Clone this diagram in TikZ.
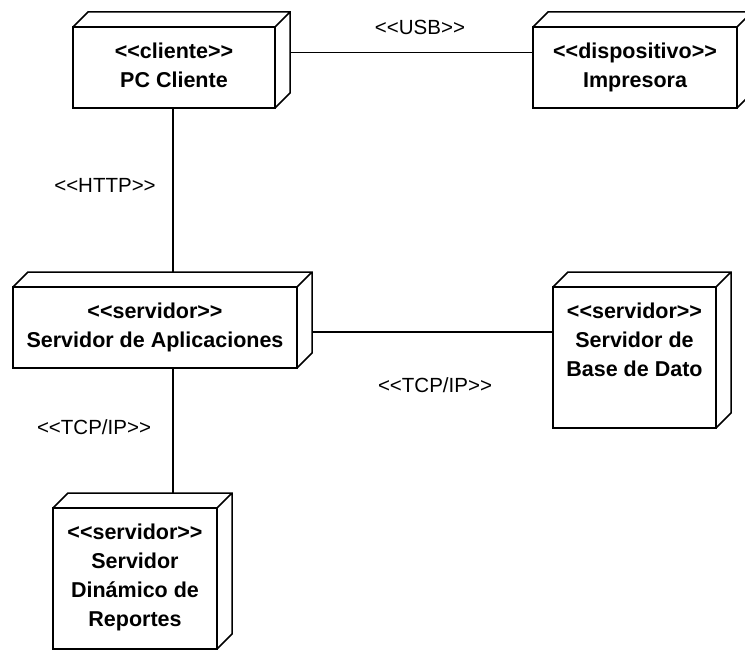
\documentclass[tikz,border=0pt]{standalone}
\usepackage{fontspec}
\setmainfont{Liberation Sans}
\usetikzlibrary{calc}

% stereotype guillemets written as plain angle brackets
\newcommand\stereo[1]{<{}<#1>{}>}

% text block of a deployment node: fixed size, lines hung from the top
\newcommand\nodebody[3]{%
  \parbox[c][#2][t]{#1}{\fontsize{21.5}{29}\selectfont\bfseries\centering
    \vspace*{11.5pt}\strut #3\par}}

% the receding top and right faces of a 3D node box
\newcommand\nodedepth[1]{%
  \draw[boxline] (#1.north west) -- ++(15,-15)
    -- ([shift={(15pt,15pt)}]#1.north east)
    -- ([shift={(15pt,15pt)}]#1.south east) -- (#1.south east)
    (#1.north east) -- ++(15,-15);}

\tikzset{
  boxline/.style={line width=1.5pt, line join=miter},
  depnode/.style={boxline, draw, fill=white, inner sep=0pt, outer sep=0pt},
  conn/.style={line width=1.3pt},
  connlabel/.style={font=\fontsize{20.5}{24}\selectfont, inner sep=0pt},
}

\begin{document}
\begin{tikzpicture}[x=1pt, y=-1pt]
  \useasboundingbox (0,0) rectangle (745,650);

  % nodes (front faces)
  \node[depnode] (cli) at (174,67.5)
    {\nodebody{202pt}{81pt}{\stereo{cliente}\\PC Cliente}};
  \node[depnode] (imp) at (635,67.5)
    {\nodebody{204pt}{81pt}{\stereo{dispositivo}\\Impresora}};
  \node[depnode] (app) at (155,327.5)
    {\nodebody{284pt}{81pt}{\stereo{servidor}\\Servidor de Aplicaciones}};
  \node[depnode] (bd) at (634.5,357.5)
    {\nodebody{163pt}{141pt}{\stereo{servidor}\\Servidor de\\Base de Dato}};
  \node[depnode] (din) at (135,578.5)
    {\nodebody{164pt}{141pt}{\stereo{servidor}\\Servidor\\Dinámico de\\Reportes}};

  \foreach \n in {cli,imp,app,bd,din} {\nodedepth{\n}}

  % communication paths
  \coordinate (cliback) at ([shift={(15pt,15pt)}]cli.east);
  \draw[conn] (cliback) -- (imp.west |- cliback);

  \coordinate (appport) at ([shift={(15pt,-4.5pt)}]app.east);
  \draw[conn] (appport) -- (bd.west |- appport);

  \coordinate (spine) at ([xshift=-1pt]cli.south);
  \draw[conn] (spine) -- ([yshift=15pt]spine |- app.north);
  \draw[conn] (spine |- app.south) -- ([yshift=15pt]spine |- din.north);

  % stereotypes of the links
  \node[connlabel] (lusb)  at (420,27)  {\stereo{USB}};
  \node[connlabel] (lhttp) at (105,185) {\stereo{HTTP}};
  \node[connlabel] (ltcp1) at (435,385) {\stereo{TCP/IP}};
  \node[connlabel] (ltcp2) at (94,427)  {\stereo{TCP/IP}};
\end{tikzpicture}
\end{document}
